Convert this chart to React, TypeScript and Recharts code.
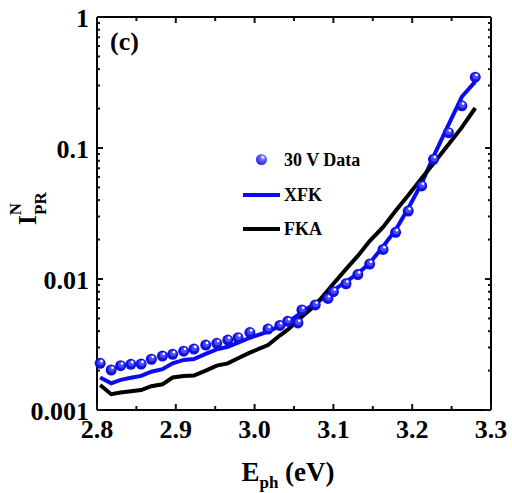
import { ComposedChart, Line, XAxis, YAxis } from 'recharts'

// photon energy grid (eV)
const energy = [
  2.804, 2.818, 2.83, 2.843, 2.856, 2.869, 2.883, 2.896, 2.91, 2.923, 2.938, 2.952,
  2.966, 2.979, 2.994, 3.017, 3.032, 3.042, 3.055, 3.06, 3.077, 3.093, 3.1, 3.116,
  3.131, 3.146, 3.163, 3.179, 3.195, 3.212, 3.227, 3.246, 3.263, 3.28,
]

// 30 V measured points
const measured = [
  0.00227, 0.00202, 0.00218, 0.00223, 0.00224, 0.00244, 0.00258, 0.00266, 0.00281, 0.00292,
  0.00313, 0.00323, 0.00342, 0.00356, 0.0039, 0.00415, 0.00442, 0.00475, 0.00462, 0.0058,
  0.00634, 0.0071, 0.008, 0.0092, 0.0108, 0.013, 0.0168, 0.0227, 0.033, 0.0513,
  0.082, 0.131, 0.21, 0.347,
]

// XFK fit
const xfk = [
  0.00177, 0.0016, 0.0017, 0.00176, 0.00182, 0.00196, 0.00205, 0.00227, 0.00241, 0.00245,
  0.00268, 0.0029, 0.00304, 0.00327, 0.00356, 0.00396, 0.00438, 0.0047, 0.0053, 0.0056,
  0.0065, 0.0076, 0.0082, 0.00954, 0.011, 0.0132, 0.0177, 0.0237, 0.0347, 0.0537,
  0.0859, 0.15, 0.246, 0.321,
]

// FKA fit
const fka = [
  0.00155, 0.00132, 0.00136, 0.00139, 0.00142, 0.00152, 0.00157, 0.00177, 0.00182, 0.00183,
  0.002, 0.00218, 0.00227, 0.00248, 0.00274, 0.00313, 0.0037, 0.0041, 0.0048, 0.00515,
  0.0063, 0.0082, 0.0092, 0.0119, 0.015, 0.0195, 0.0249, 0.0332, 0.0436, 0.0588,
  0.0762, 0.1064, 0.1436, 0.202,
]

const xTicks = [2.8, 2.85, 2.9, 2.95, 3.0, 3.05, 3.1, 3.15, 3.2, 3.25, 3.3]
const yDecades = [0.001, 0.01, 0.1, 1]
const yMinorSteps = [2, 3, 4, 5, 6, 7, 8, 9]

const yTicks = [
  ...yDecades,
  ...yDecades.slice(0, -1).flatMap((d) => yMinorSteps.map((m) => +(d * m).toPrecision(3))),
].sort((a, b) => a - b)

const rows = energy.map((e, i) => ({ e, data: measured[i], xfk: xfk[i], fka: fka[i] }))

const FONT = '"Liberation Serif", "Times New Roman", serif'
const BLUE = '#0a0af5'
const TICK = '#111'

const isMajorX = (v: number) => Math.abs(v * 10 - Math.round(v * 10)) < 1e-6
const isDecade = (v: number) => yDecades.some((d) => Math.abs(d - v) < 1e-9)

const BottomTick = ({ x, y, payload }: any) => {
  const major = isMajorX(payload.value)
  return (
    <g>
      <line x1={x} x2={x} y1={y} y2={y - (major ? 6 : 4)} stroke={TICK} strokeWidth={2} />
      {major && (
        <text x={x} y={y + 28} textAnchor="middle" fontFamily={FONT} fontWeight="bold" fontSize={26} fill="#000">
          {payload.value.toFixed(1)}
        </text>
      )}
    </g>
  )
}

const TopTick = ({ x, y, payload }: any) => (
  <g>
    <line x1={x} x2={x} y1={y} y2={y + (isMajorX(payload.value) ? 6 : 4)} stroke={TICK} strokeWidth={2} />
  </g>
)

const LeftTick = ({ x, y, payload }: any) => {
  const major = isDecade(payload.value)
  return (
    <g>
      <line x1={x} x2={x + (major ? 6 : 3)} y1={y} y2={y} stroke={TICK} strokeWidth={2} />
      {major && (
        <text x={x - 8} y={y} dy="0.38em" textAnchor="end" fontFamily={FONT} fontWeight="bold" fontSize={26} fill="#000">
          {String(payload.value)}
        </text>
      )}
    </g>
  )
}

const RightTick = ({ x, y, payload }: any) => (
  <g>
    <line x1={x} x2={x - (isDecade(payload.value) ? 6 : 3)} y1={y} y2={y} stroke={TICK} strokeWidth={2} />
  </g>
)

// shaded ball marker
const Ball = (props: any) => {
  const { cx, cy, index } = props
  if (cx == null || cy == null) return <g key={`b-${index}`} />
  return (
    <g key={`b-${index}`}>
      <circle cx={cx} cy={cy} r={5.5} fill="#1010e0" />
      <circle cx={cx + 0.5} cy={cy - 1} r={3.2} fill="#4a4aff" />
      <circle cx={cx + 1.3} cy={cy - 2.2} r={1.3} fill="#ffffff" />
    </g>
  )
}

const txt = (size: number): React.CSSProperties => ({
  position: 'absolute',
  fontFamily: FONT,
  fontWeight: 'bold',
  fontSize: size,
  lineHeight: 1,
  whiteSpace: 'nowrap',
  color: '#000',
})

export default function App() {
  return (
    <div style={{ position: 'absolute', left: 0, top: 0, width: 512, height: 493 }}>
      <ComposedChart width={512} height={493} data={rows} margin={{ top: 0, right: 0, bottom: 0, left: 0 }}>
        <XAxis
          dataKey="e"
          type="number"
          domain={[2.8, 3.3]}
          ticks={xTicks}
          interval={0}
          height={83}
          tickSize={0}
          tickMargin={0}
          tick={BottomTick}
          axisLine={{ stroke: '#000', strokeWidth: 2 }}
        />
        <XAxis
          xAxisId="top"
          orientation="top"
          dataKey="e"
          type="number"
          domain={[2.8, 3.3]}
          ticks={xTicks}
          interval={0}
          height={17}
          tickSize={0}
          tickMargin={0}
          tick={TopTick}
          axisLine={{ stroke: '#000', strokeWidth: 2 }}
        />
        <YAxis
          type="number"
          scale="log"
          domain={[0.001, 1]}
          ticks={yTicks}
          interval={0}
          width={97}
          tickSize={0}
          tickMargin={0}
          tick={LeftTick}
          axisLine={{ stroke: '#000', strokeWidth: 2 }}
        />
        <YAxis
          yAxisId="right"
          orientation="right"
          type="number"
          scale="log"
          domain={[0.001, 1]}
          ticks={yTicks}
          interval={0}
          width={21}
          tickSize={0}
          tickMargin={0}
          tick={RightTick}
          axisLine={{ stroke: '#000', strokeWidth: 2 }}
        />
        {/* invisible series so the mirrored top/right axes get a scale */}
        <Line xAxisId="top" yAxisId="right" dataKey="fka" stroke="none" dot={false} activeDot={false} isAnimationActive={false} />
        <Line dataKey="xfk" type="linear" stroke={BLUE} strokeWidth={4} dot={false} isAnimationActive={false} />
        <Line dataKey="data" type="linear" stroke="none" dot={Ball} activeDot={false} isAnimationActive={false} />
        <Line dataKey="fka" type="linear" stroke="#000" strokeWidth={4} dot={false} isAnimationActive={false} />
      </ComposedChart>

      {/* panel tag, legend and axis titles */}
      <div style={{ ...txt(26), left: 110, top: 29 }}>(c)</div>
      <div
        style={{
          position: 'absolute',
          left: 256,
          top: 154,
          width: 11,
          height: 11,
          borderRadius: '50%',
          background: 'radial-gradient(circle at 62% 30%, #ffffff 0%, #6a6aff 25%, #0000d8 100%)',
        }}
      />
      <div style={{ ...txt(18), left: 284, top: 151 }}>30 V Data</div>
      <div style={{ position: 'absolute', left: 243, top: 193, width: 37, height: 4, background: BLUE }} />
      <div style={{ ...txt(18), left: 284, top: 186 }}>XFK</div>
      <div style={{ position: 'absolute', left: 243, top: 227, width: 37, height: 4, background: '#000' }} />
      <div style={{ ...txt(18), left: 284, top: 220 }}>FKA</div>
      <div style={{ ...txt(27), left: 188, width: 200, top: 459, textAlign: 'center' }}>
        E<span style={{ fontSize: 17, verticalAlign: '-7px', lineHeight: 0 }}>ph</span> (eV)
      </div>
      <div style={{ ...txt(25), left: 15, top: 225, transform: 'rotate(-90deg)', transformOrigin: '0 0' }}>
        I
        <span style={{ fontSize: 17, verticalAlign: '15px', lineHeight: 0 }}>N</span>
        <span style={{ fontSize: 17, verticalAlign: '-10px', lineHeight: 0, marginLeft: -12 }}>PR</span>
      </div>
    </div>
  )
}
